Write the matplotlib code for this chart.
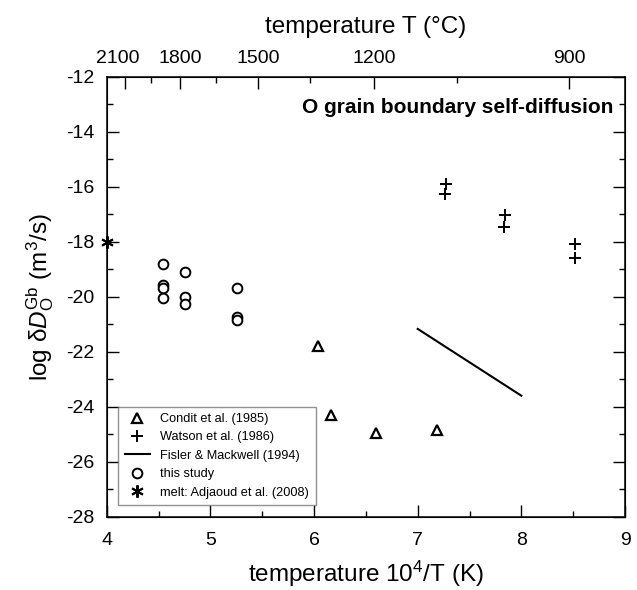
import matplotlib
matplotlib.use("Agg")
import matplotlib.pyplot as plt
from matplotlib.ticker import MultipleLocator
from matplotlib.transforms import ScaledTranslation

plt.rcParams['font.family'] = ['Liberation Sans', 'DejaVu Sans']
plt.rcParams['mathtext.fontset'] = 'custom'
plt.rcParams['mathtext.rm'] = 'Liberation Sans'
plt.rcParams['mathtext.it'] = 'Liberation Sans:italic'
plt.rcParams['axes.unicode_minus'] = False  # guion simple como en la figura original

# --- datos ---
condit_x = [6.04, 6.16, 6.60, 7.19]
condit_y = [-21.8, -24.3, -24.95, -24.85]

watson_x = [7.27, 7.26, 7.84, 7.83, 8.52, 8.52]
watson_y = [-15.9, -16.25, -17.03, -17.48, -18.08, -18.58]

fisler_x = [7.0, 8.0]
fisler_y = [-21.17, -23.6]

estudio_x = [4.54, 4.54, 4.54, 4.54, 4.755, 4.755, 4.755, 5.26, 5.26, 5.26]
estudio_y = [-18.8, -19.57, -19.69, -20.06, -19.1, -20.0, -20.28, -19.67, -20.75, -20.85]

melt_x = [4.0]
melt_y = [-18.0]

# eje superior (temperatura en C) y sus posiciones en 10^4/T
top_labels = ['2100', '1800', '1500', '1200', '900']
top_major_pos = [4.18, 4.71, 5.46, 6.58, 8.46]
top_minor_pos = [4.43, 5.055, 5.96, 7.38]

fig = plt.figure(figsize=(6.37, 5.9), dpi=100)
ax = fig.add_axes([0.1675, 0.1242, 0.8137, 0.7458])

ax.plot(condit_x, condit_y, ls='none', marker='^', ms=7, mfc='white', mec='black', mew=1.6,
        label='Condit et al. (1985)')
ax.plot(watson_x, watson_y, ls='none', marker='+', ms=9, mec='black', mew=1.4,
        label='Watson et al. (1986)')
ax.plot(fisler_x, fisler_y, color='black', lw=1.5, label='Fisler & Mackwell (1994)')
ax.plot(estudio_x, estudio_y, ls='none', marker='o', ms=7, mfc='white', mec='black', mew=1.4,
        label='this study')
ax.plot(melt_x, melt_y, ls='none', marker=(6, 2, 0), ms=9, mec='black', mew=1.4,
        clip_on=False, zorder=5, label='melt: Adjaoud et al. (2008)')

ax.set_xlim(4, 9)
ax.set_ylim(-28, -12)
ax.xaxis.set_major_locator(MultipleLocator(1))
ax.xaxis.set_minor_locator(MultipleLocator(0.5))
ax.yaxis.set_major_locator(MultipleLocator(2))
ax.yaxis.set_minor_locator(MultipleLocator(1))
ax.tick_params(which='both', direction='in', top=False, right=True, width=1.0, labelsize=14)
ax.tick_params(which='major', length=8.5)
ax.tick_params(which='minor', length=4)
ax.tick_params(axis='x', pad=11)
ax.tick_params(axis='y', pad=9)
for s in ax.spines.values():
    s.set_linewidth(1.1)

ax.set_xlabel(r'temperature 10$^4$/T (K)', fontsize=17.5, labelpad=7)
ax.set_ylabel(r'log δ$D_{\mathrm{O}}^{\mathrm{Gb}}$ (m$^3$/s)', fontsize=17.5, labelpad=7)

# eje superior
ax2 = ax.twiny()
ax2.set_xlim(ax.get_xlim())
ax2.set_xticks(top_major_pos)
ax2.set_xticklabels(top_labels)
ax2.set_xticks(top_minor_pos, minor=True)
ax2.tick_params(which='both', direction='in', width=1.0, labelsize=14, pad=7)
ax2.tick_params(which='major', length=8.5)
ax2.tick_params(which='minor', length=4)
ax2.set_xlabel('temperature T (°C)', fontsize=17.5, labelpad=12)
# la etiqueta 2100 esta corrida a la izquierda en el original
primera = ax2.get_xticklabels()[0]
primera.set_transform(primera.get_transform() + ScaledTranslation(-8 / 100, 0, fig.dpi_scale_trans))

ax.text(0.977, 0.929, 'O grain boundary self-diffusion', transform=ax.transAxes,
        ha='right', va='center', fontsize=15, fontweight='bold')

leg = ax.legend(loc='lower left', bbox_to_anchor=(0.0224, 0.0266), fontsize=9.2,
                frameon=True, fancybox=False, edgecolor='#777777', borderaxespad=0,
                handlelength=2.0, labelspacing=0.5, borderpad=0.5)
leg.get_frame().set_linewidth(1.0)

fig.savefig('out.png', dpi=100)
